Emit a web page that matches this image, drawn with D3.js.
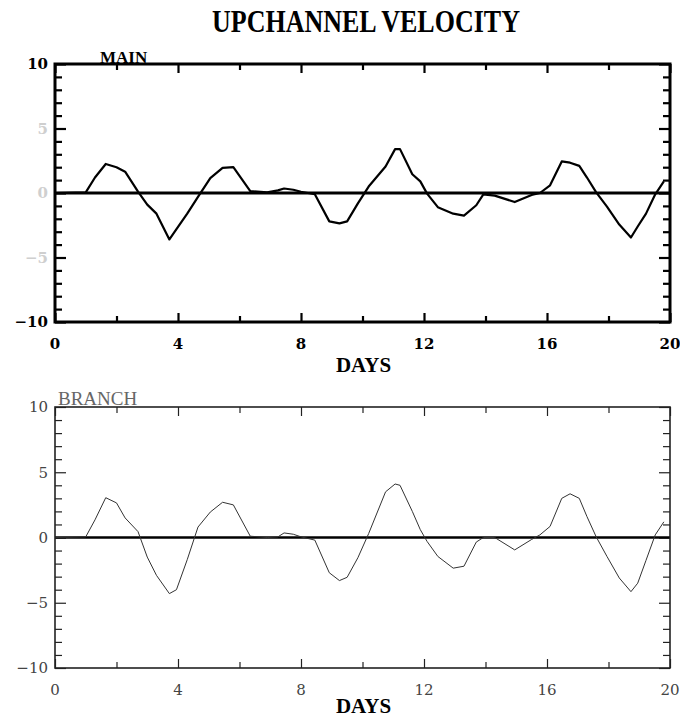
<!DOCTYPE html>
<html>
<head>
<meta charset="utf-8">
<script src="https://cdn.jsdelivr.net/npm/d3@7"></script>
<style>
  body { margin: 0; background: #fff; }
  svg { display: block; }
</style>
</head>
<body>
<div id="chart"></div>
<script>
// upchannel velocity — two stacked panels, MAIN (heavy) and BRANCH (light)

const days = [0, 1.0, 1.3, 1.65, 2.0, 2.28, 2.7, 3.0, 3.3, 3.72, 3.95, 4.3, 4.65, 5.05, 5.45, 5.8,
  6.35, 6.9, 7.25, 7.45, 7.75, 8.0, 8.45, 8.92, 9.25, 9.5, 9.85, 10.2, 10.75, 11.06, 11.22,
  11.62, 11.88, 12.1, 12.45, 12.95, 13.3, 13.7, 13.93, 14.3, 14.95, 15.5, 15.77, 16.1, 16.48,
  16.75, 17.05, 17.3, 17.6, 17.95, 18.35, 18.73, 18.95, 19.22, 19.52, 19.8];

// (m/s-ish units, -10..10 axis)
const mainVel = [0, 0.05, 1.2, 2.25, 2.0, 1.65, 0.1, -0.9, -1.6, -3.6, -2.8, -1.6, -0.3, 1.15, 1.95, 2.0,
  0.15, 0.05, 0.2, 0.35, 0.25, 0.1, -0.1, -2.2, -2.35, -2.2, -0.8, 0.5, 2.05, 3.4, 3.4,
  1.45, 0.9, -0.05, -1.1, -1.6, -1.75, -0.95, -0.1, -0.2, -0.7, -0.15, 0.0, 0.6, 2.45,
  2.35, 2.1, 1.2, 0.05, -1.05, -2.45, -3.45, -2.6, -1.6, -0.1, 0.9];

const branchVel = [0, 0.05, 1.35, 3.05, 2.65, 1.5, 0.45, -1.5, -2.9, -4.3, -4.0, -1.7, 0.8, 1.95, 2.7, 2.5,
  0.1, 0.0, 0.05, 0.35, 0.25, 0.05, -0.2, -2.7, -3.3, -3.05, -1.55, 0.3, 3.5, 4.1, 4.0,
  2.0, 0.6, -0.3, -1.45, -2.35, -2.2, -0.35, 0.0, 0.0, -0.95, -0.15, 0.2, 0.85, 3.0,
  3.35, 3.0, 1.6, 0.05, -1.45, -3.1, -4.15, -3.5, -1.75, 0.2, 1.2];

const xLabels = [0, 4, 8, 12, 16, 20];
const yLabels = [10, 5, 0, -5, -10];

const W = 680, H = 720;
const svg = d3.select('#chart').append('svg')
  .attr('width', W).attr('height', H);

// title
svg.append('text')
  .attr('transform', 'translate(366,32) scale(1,1.18)')
  .attr('text-anchor', 'middle')
  .style('font-family', '"Liberation Serif", serif')
  .style('font-weight', 'bold')
  .style('font-size', '26px')
  .text('UPCHANNEL VELOCITY');

function panel(opt) {
  const width = 615, height = opt.h;
  const g = svg.append('g').attr('transform', `translate(55,${opt.top})`);

  const x = d3.scaleLinear().domain([0, 20]).range([0, width]);
  const y = d3.scaleLinear().domain([-10, 10]).range([height, 0]);

  const pts = days.map((d, i) => ({ day: d, v: opt.values[i] }));

  /* ─── inward ticks on all four sides ─── */
  const xt = d3.range(0, 21, 2), yt = d3.range(-10, 11, 1);
  const tickW = opt.tickW;

  g.append('g').attr('transform', `translate(0,${height})`)
    .call(d3.axisBottom(x).tickValues(xt).tickSize(-6).tickFormat(''))
    .call(a => a.select('.domain').remove())
    .selectAll('.tick line')
      .attr('y2', d => d % 4 === 0 ? -9 : -6)
      .attr('stroke', opt.ink).attr('stroke-width', tickW);

  g.append('g')
    .call(d3.axisTop(x).tickValues(xt).tickSize(-6).tickFormat(''))
    .call(a => a.select('.domain').remove())
    .selectAll('.tick line')
      .attr('y2', d => d % 4 === 0 ? 9 : 6)
      .attr('stroke', opt.ink).attr('stroke-width', tickW);

  g.append('g')
    .call(d3.axisLeft(y).tickValues(yt).tickSize(-7).tickFormat(''))
    .call(a => a.select('.domain').remove())
    .selectAll('.tick line')
      .attr('x2', d => d % 5 === 0 ? 11 : 7)
      .attr('stroke', opt.ink).attr('stroke-width', tickW);

  g.append('g').attr('transform', `translate(${width},0)`)
    .call(d3.axisRight(y).tickValues(yt).tickSize(-7).tickFormat(''))
    .call(a => a.select('.domain').remove())
    .selectAll('.tick line')
      .attr('x2', d => d % 5 === 0 ? -11 : -7)
      .attr('stroke', opt.ink).attr('stroke-width', tickW);

  /* ─── tick labels ─── */
  const lab = g.append('g')
    .style('font-family', '"DejaVu Serif", serif')
    .style('font-weight', opt.bold ? 'bold' : 'normal')
    .style('font-size', '15px');

  lab.selectAll('.xl').data(xLabels).join('text')
    .attr('x', d => x(d)).attr('y', height + 27)
    .attr('text-anchor', 'middle')
    .attr('fill', opt.labInk)
    .text(d => d);

  lab.selectAll('.yl').data(yLabels).join('text')
    .attr('x', -7).attr('y', d => y(d)).attr('dy', '0.36em')
    .attr('text-anchor', 'end')
    .attr('fill', d => (opt.faintMid && Math.abs(d) < 10) ? '#cfcfcf' : opt.labInk)
    .text(d => d3.format('d')(d).replace('-', '\u2212'));

  // axis title
  g.append('text')
    .attr('x', width / 2 + 1).attr('y', height + opt.daysDy)
    .attr('text-anchor', 'middle')
    .style('font-family', '"Liberation Serif", serif')
    .style('font-weight', 'bold')
    .style('font-size', '21px')
    .text('DAYS');

  /* ─── zero line, series, frame ─── */
  g.append('line')
    .attr('x1', 0).attr('x2', width)
    .attr('y1', y(0)).attr('y2', y(0))
    .attr('stroke', '#000').attr('stroke-width', opt.zeroW);

  g.append('path')
    .datum(pts)
    .attr('fill', 'none')
    .attr('stroke', opt.lineInk)
    .attr('stroke-width', opt.lineW)
    .attr('stroke-linejoin', 'round')
    .attr('d', d3.line().x(d => x(d.day)).y(d => y(d.v)));

  g.append('rect')
    .attr('width', width).attr('height', height)
    .attr('fill', 'none')
    .attr('stroke', opt.ink)
    .attr('stroke-width', opt.frameW);

  // panel name
  g.append('text')
    .attr('x', opt.nameX).attr('y', opt.nameY)
    .attr('fill', opt.nameInk)
    .style('font-family', '"Liberation Serif", serif')
    .style('font-weight', opt.bold ? 'bold' : 'normal')
    .style('font-size', opt.nameSize)
    .text(opt.name);
}

panel({
  top: 64, h: 258, values: mainVel, name: 'MAIN',
  bold: true, ink: '#000', labInk: '#000', lineInk: '#000', nameInk: '#000',
  lineW: 2.2, zeroW: 3, frameW: 3, tickW: 2.2,
  faintMid: true, daysDy: 50, nameX: 45, nameY: -1, nameSize: '17px'
});

panel({
  top: 407, h: 261, values: branchVel, name: 'BRANCH',
  bold: false, ink: '#222', labInk: '#444', lineInk: '#333', nameInk: '#666',
  lineW: 1, zeroW: 2.4, frameW: 1.6, tickW: 1.2,
  faintMid: false, daysDy: 45, nameX: 3, nameY: -2, nameSize: '19px'
});
</script>
</body>
</html>
